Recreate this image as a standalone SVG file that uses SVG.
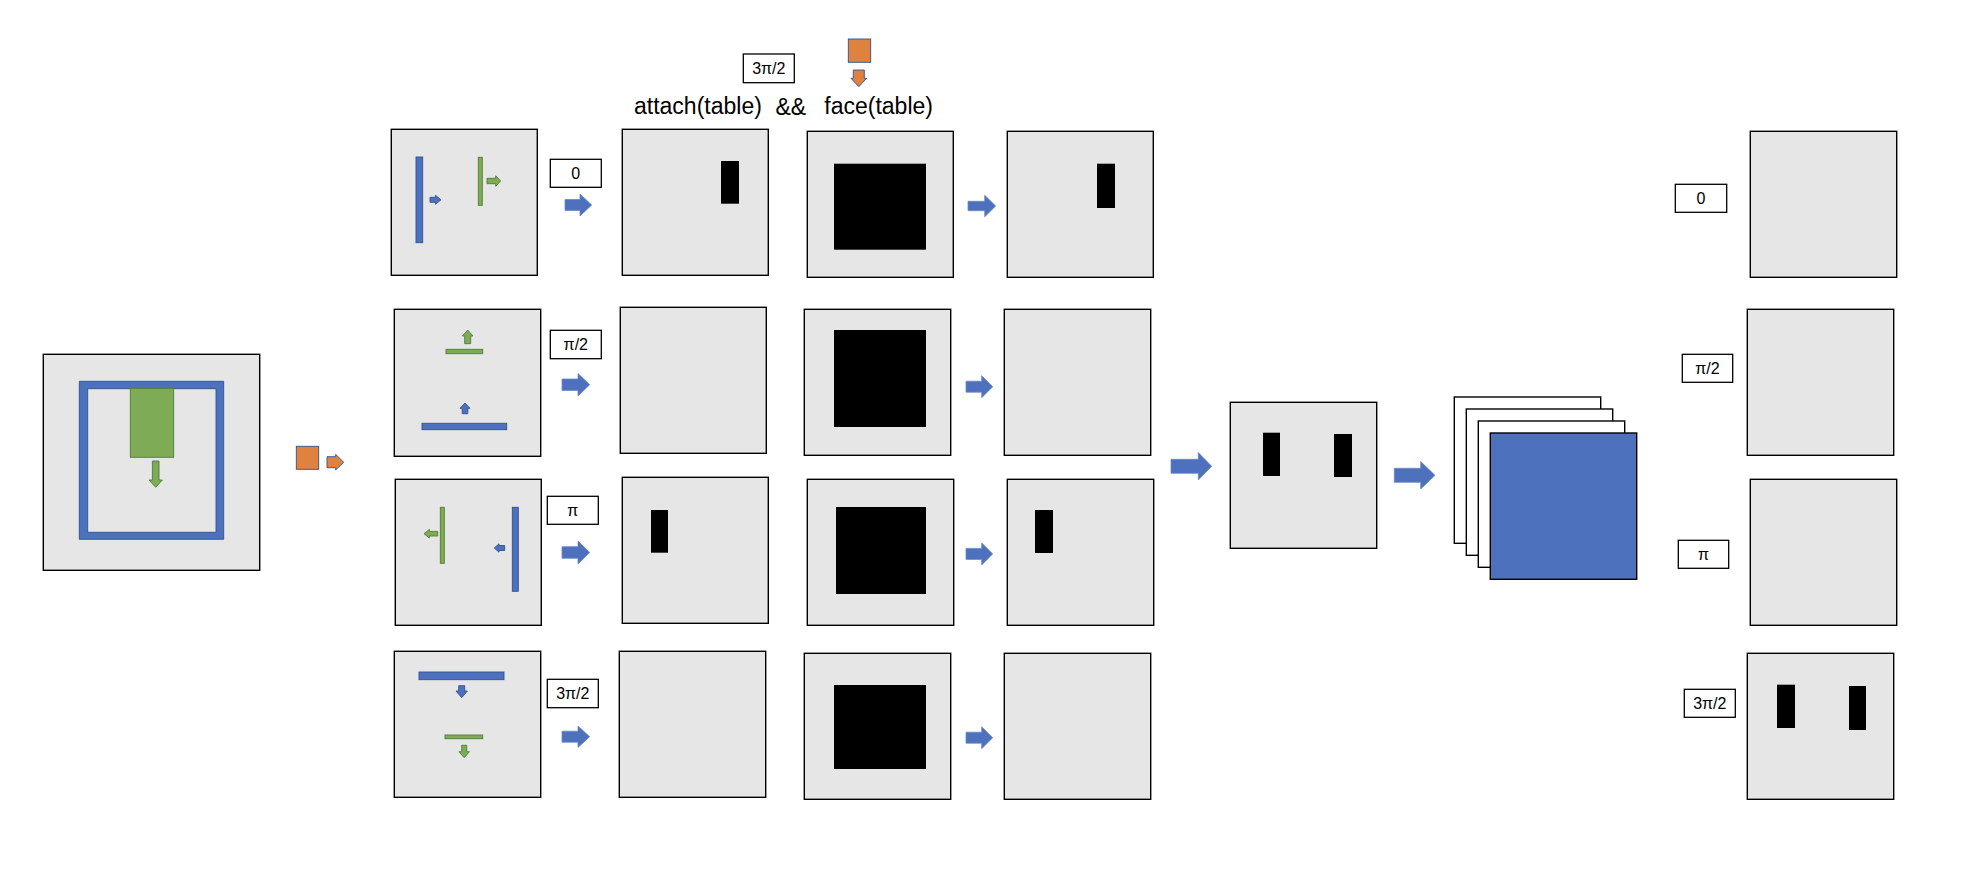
<svg xmlns="http://www.w3.org/2000/svg" width="1974" height="894" viewBox="0 0 1974 894">
<style>
.box{fill:#E6E6E6;stroke:#000;stroke-width:1.4}
.lbl{fill:#fff;stroke:#000;stroke-width:1.3}
.blk{fill:#000}
.bl{fill:#4E71BE;stroke:#2F528F;stroke-width:0.9}
.gr{fill:#7EAB55;stroke:#507E32;stroke-width:0.9}
.or{fill:#E0823F;stroke:#2F528F;stroke-width:0.9}
.arr{fill:#4E71BE;stroke:#6A88C6;stroke-width:0.8}
.wh{fill:#fff;stroke:#000;stroke-width:1.4}
.t{font-family:"Liberation Sans",Arial,sans-serif;font-size:16px;fill:#000;text-anchor:middle}
.h{font-family:"Liberation Sans",Arial,sans-serif;font-size:23px;fill:#000}
</style>
<rect width="1974" height="894" fill="#fff"/>

<g id="input">
<rect class="box" x="43.3" y="354.3" width="216.4" height="216"/>
<path class="bl" fill-rule="evenodd" d="M79.3,381.3 H223.7 V539.3 H79.3 Z M87.7,388.7 V532.3 H216 V388.7 Z"/>
<rect class="gr" x="130.3" y="388.3" width="43.4" height="69"/>
<path class="gr" d="M152.4,461 H159 V480 H162.4 L155.7,487.3 L149,480 H152.4 Z"/>
</g>
<g id="agent">
<rect class="or" x="296.3" y="446.3" width="22.4" height="23"/>
<path class="or" d="M327,456.7 H335.7 V454.4 L343.7,462.2 L335.7,470 V467.7 H327 Z"/>
</g>

<g id="header">
<text class="h" x="634" y="114">attach(table)</text>
<text class="h" x="775.5" y="115">&amp;&amp;</text>
<text class="h" x="824.3" y="114">face(table)</text>
<rect class="lbl" x="743.3" y="54" width="51" height="28.7"/>
<text class="t" x="768.8" y="74">3π/2</text>
<rect class="or" x="848.3" y="39" width="22.4" height="23.3"/>
<path class="or" d="M853.3,70 H864.3 V78.3 H866.6 L858.8,86.7 L851,78.3 H853.3 Z"/>
</g>

<!-- Row 1 : 0 -->
<g id="r1c1">
<rect class="box" x="391.3" y="129.3" width="146" height="146"/>
<rect class="bl" x="416" y="157" width="6.7" height="85.7"/>
<path class="bl" d="M430,197.3 H435.5 V195.3 L441,199.8 L435.5,204.3 V202.3 H430 Z"/>
<rect class="gr" x="478.3" y="157.3" width="4" height="48"/>
<path class="gr" d="M487,178.3 H495.7 V175.7 L500.7,181 L495.7,186.3 V183.7 H487 Z"/>
</g>
<g id="r1lbl"><rect class="lbl" x="550.3" y="159.3" width="51" height="28"/><text class="t" x="575.8" y="179.2">0</text></g>
<g id="r1c2"><rect class="box" x="622.3" y="129.3" width="146" height="146"/><rect class="blk" x="721" y="161" width="18" height="42.7"/></g>
<g id="r1c3"><rect class="box" x="807.3" y="131.3" width="146" height="146"/><rect class="blk" x="834" y="163.7" width="92" height="86"/></g>
<g id="r1c4"><rect class="box" x="1007.3" y="131.3" width="146" height="146"/><rect class="blk" x="1097" y="163.7" width="18" height="44.3"/></g>

<!-- Row 2 : pi/2 -->
<g id="r2c1">
<rect class="box" x="394.3" y="309.3" width="146.4" height="147"/>
<path class="gr" d="M464.7,343.7 V336 H462.4 L467.7,330 L473,336 H470.7 V343.7 Z"/>
<rect class="gr" x="446" y="349.3" width="36.7" height="4.4"/>
<path class="bl" d="M462.2,413.7 V408.3 H460 L465,403 L470,408.3 H467.8 V413.7 Z"/>
<rect class="bl" x="422" y="423.3" width="84.7" height="6.4"/>
</g>
<g id="r2lbl"><rect class="lbl" x="550.3" y="330.3" width="51" height="28.4"/><text class="t" x="575.8" y="350.4">π/2</text></g>
<g id="r2c2"><rect class="box" x="620.3" y="307.3" width="146" height="146"/></g>
<g id="r2c3"><rect class="box" x="804.3" y="309.3" width="146.4" height="146"/><rect class="blk" x="834" y="330" width="92" height="97"/></g>
<g id="r2c4"><rect class="box" x="1004.3" y="309.3" width="146.4" height="146"/></g>

<!-- Row 3 : pi -->
<g id="r3c1">
<rect class="box" x="395.3" y="479.3" width="146" height="146"/>
<rect class="gr" x="440.3" y="507.3" width="4" height="56"/>
<path class="gr" d="M437.7,531.4 H429.3 V529.4 L424,533.7 L429.3,538 V536 H437.7 Z"/>
<path class="bl" d="M504.7,545.5 H499 V543.8 L494.3,548 L499,552.2 V550.5 H504.7 Z"/>
<rect class="bl" x="512.3" y="507.3" width="6" height="84"/>
</g>
<g id="r3lbl"><rect class="lbl" x="547.3" y="496.3" width="51" height="28"/><text class="t" x="572.8" y="516.2">π</text></g>
<g id="r3c2"><rect class="box" x="622.3" y="477.3" width="146" height="146"/><rect class="blk" x="651" y="510" width="17" height="42.7"/></g>
<g id="r3c3"><rect class="box" x="807.3" y="479.3" width="146.4" height="146"/><rect class="blk" x="836" y="507" width="90" height="87"/></g>
<g id="r3c4"><rect class="box" x="1007.3" y="479.3" width="146.4" height="146"/><rect class="blk" x="1035" y="510" width="18" height="43"/></g>

<!-- Row 4 : 3pi/2 -->
<g id="r4c1">
<rect class="box" x="394.3" y="651.3" width="146.4" height="146"/>
<rect class="bl" x="419" y="672" width="85" height="7.7"/>
<path class="bl" d="M458.7,685.7 H464.7 V691 H467.4 L461.7,697.7 L456,691 H458.7 Z"/>
<rect class="gr" x="445" y="735" width="37.7" height="3.7"/>
<path class="gr" d="M461.7,745.3 H466.7 V751.7 H469.4 L464.2,757.7 L459,751.7 H461.7 Z"/>
</g>
<g id="r4lbl"><rect class="lbl" x="547.3" y="679.3" width="51" height="28.4"/><text class="t" x="572.8" y="699.4">3π/2</text></g>
<g id="r4c2"><rect class="box" x="619.3" y="651.3" width="146.4" height="146"/></g>
<g id="r4c3"><rect class="box" x="804.3" y="653.3" width="146.4" height="146"/><rect class="blk" x="834" y="685" width="92" height="84"/></g>
<g id="r4c4"><rect class="box" x="1004.3" y="653.3" width="146.4" height="146"/></g>

<!-- merge -->
<g id="merged"><rect class="box" x="1230.3" y="402.3" width="146.4" height="146"/><rect class="blk" x="1263" y="432.7" width="17" height="43.3"/><rect class="blk" x="1334" y="434" width="18" height="43"/></g>
<g id="stack">
<rect class="wh" x="1454.3" y="397" width="146.4" height="146.3"/>
<rect class="wh" x="1466.3" y="409" width="146.4" height="146.3"/>
<rect class="wh" x="1478.3" y="421" width="146.4" height="146.3"/>
<rect fill="#4E71BE" stroke="#000" stroke-width="1.4" x="1490.3" y="433" width="146.4" height="146.3"/>
</g>

<!-- outputs -->
<g id="o1"><rect class="lbl" x="1675.3" y="184.3" width="51.4" height="28"/><text class="t" x="1701" y="204.2">0</text><rect class="box" x="1750.3" y="131.3" width="146.4" height="146"/></g>
<g id="o2"><rect class="lbl" x="1682.3" y="354.3" width="50.4" height="28"/><text class="t" x="1707.5" y="374.2">π/2</text><rect class="box" x="1747.3" y="309.3" width="146.4" height="146"/></g>
<g id="o3"><rect class="lbl" x="1678.3" y="540.3" width="50.4" height="28"/><text class="t" x="1703.5" y="560.2">π</text><rect class="box" x="1750.3" y="479.3" width="146.4" height="146"/></g>
<g id="o4"><rect class="lbl" x="1684.3" y="689.3" width="51" height="28"/><text class="t" x="1709.8" y="709.2">3π/2</text><rect class="box" x="1747.3" y="653.3" width="146.4" height="146"/><rect class="blk" x="1777" y="684.7" width="18" height="43.3"/><rect class="blk" x="1849" y="686" width="17" height="44"/></g>

<g id="connectors">
<path class="arr" d="M565,199.5 H580 V194 L591.7,205 L580,216 V210.5 H565 Z"/>
<path class="arr" d="M562,379 H578 V373.4 L589.7,384.7 L578,396 V390.4 H562 Z"/>
<path class="arr" d="M562,546.7 H578 V541 L589.7,552.5 L578,564 V558.3 H562 Z"/>
<path class="arr" d="M562,731.2 H578 V726 L589.7,736.7 L578,747.4 V742.2 H562 Z"/>
<path class="arr" d="M968,201.3 H984.7 V195.2 L995.7,206 L984.7,216.8 V210.7 H968 Z"/>
<path class="arr" d="M966,381.2 H981.7 V375.7 L992.7,386.7 L981.7,397.7 V392.2 H966 Z"/>
<path class="arr" d="M966,548.4 H981.7 V542.9 L992.7,553.9 L981.7,564.9 V559.4 H966 Z"/>
<path class="arr" d="M966,732.2 H981.7 V726.7 L992.7,737.7 L981.7,748.7 V743.2 H966 Z"/>
<path class="arr" d="M1171,459.3 H1198.3 V452.6 L1211.7,466.3 L1198.3,480 V473.3 H1171 Z"/>
<path class="arr" d="M1394.3,468.3 H1420.7 V461.6 L1435,475.3 L1420.7,489 V482.3 H1394.3 Z"/>
</g>
</svg>
